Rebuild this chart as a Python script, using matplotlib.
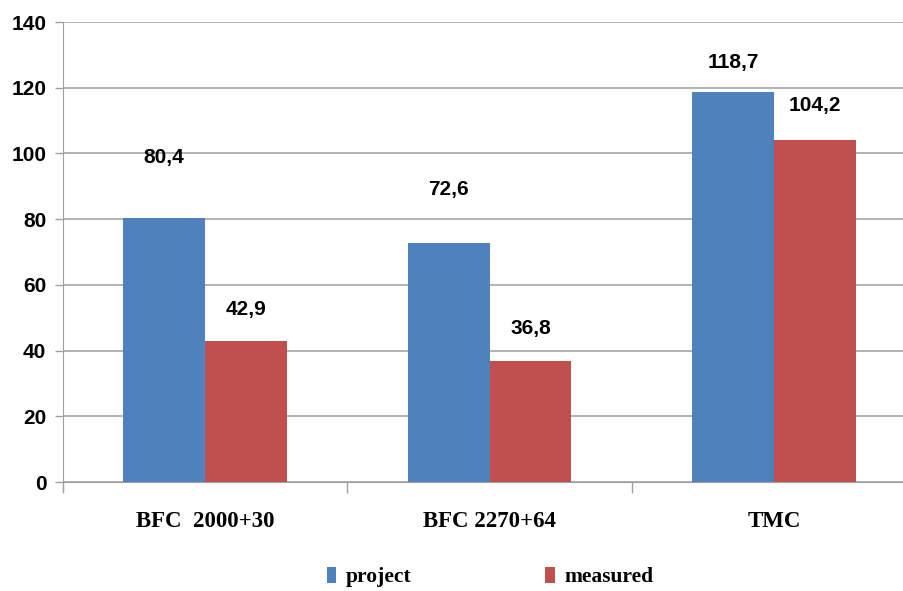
import matplotlib
matplotlib.use("Agg")
import matplotlib.pyplot as plt
import numpy as np

categories = ["BFC  2000+30", "BFC 2270+64", "TMC"]
project = [80.4, 72.6, 118.7]
measured = [42.9, 36.8, 104.2]
series_names = ["project", "measured"]
yticks = [0, 20, 40, 60, 80, 100, 120, 140]

sans = "Liberation Sans"
serif = "Liberation Serif"

W, H = 904, 591
fig = plt.figure(figsize=(W / 100, H / 100), dpi=100)
left, right, top, bottom = 63, 916, 22, 482
ax = fig.add_axes([left / W, 1 - bottom / H, (right - left) / W, (bottom - top) / H])

blue = "#4F81BD"
red = "#C0504D"
x = np.arange(len(categories))
bw = 0.288
b1 = ax.bar(x - bw / 2, project, bw, color=blue, label=series_names[0], zorder=3)
b2 = ax.bar(x + bw / 2, measured, bw, color=red, label=series_names[1], zorder=3)

ax.set_xlim(-0.5, len(categories) - 0.5)
ax.set_ylim(0, 140)
ax.set_yticks(yticks)
ax.set_yticklabels([str(v) for v in yticks], fontfamily=sans, fontsize=15, fontweight="bold")
ax.yaxis.grid(True, color="#A6A6A6", linewidth=1.2, zorder=0)
ax.set_axisbelow(True)

ax.set_xticks(np.arange(len(categories) + 1) - 0.5)
ax.set_xticklabels([])
ax.tick_params(axis="x", length=8, color="#A0A0A0", width=1)
ax.tick_params(axis="y", length=6, color="#A0A0A0", width=1, pad=6)
for c, name in zip(x, categories):
    ax.text(c, -12.0, name, ha="center", va="center", fontfamily=serif,
            fontsize=16.5, fontweight="bold", clip_on=False)

for s in ["top", "right"]:
    ax.spines[s].set_visible(False)
ax.spines["left"].set_color("#A0A0A0")
ax.spines["bottom"].set_color("#A0A0A0")
ax.spines["left"].set_bounds(-2.5, 140)

proj_off = [18.5, 16.5, 9.0]
meas_off = [9.5, 9.8, 10.3]
for rect, v, off in zip(b1, project, proj_off):
    ax.text(rect.get_x() + rect.get_width() / 2, v + off, f"{v:.1f}".replace(".", ","),
            ha="center", va="center", fontfamily=sans, fontsize=15, fontweight="bold")
for rect, v, off in zip(b2, measured, meas_off):
    ax.text(rect.get_x() + rect.get_width() / 2, v + off, f"{v:.1f}".replace(".", ","),
            ha="center", va="center", fontfamily=sans, fontsize=15, fontweight="bold")

leg = fig.legend(handles=[b1, b2], labels=series_names, loc="center",
                 bbox_to_anchor=(490 / W, 1 - 577 / H), ncol=2, frameon=False,
                 prop={"family": serif, "weight": "bold", "size": 15.5},
                 handlelength=0.45, handleheight=0.8, columnspacing=6.2, handletextpad=0.45)

fig.savefig("out.png", dpi=100)
